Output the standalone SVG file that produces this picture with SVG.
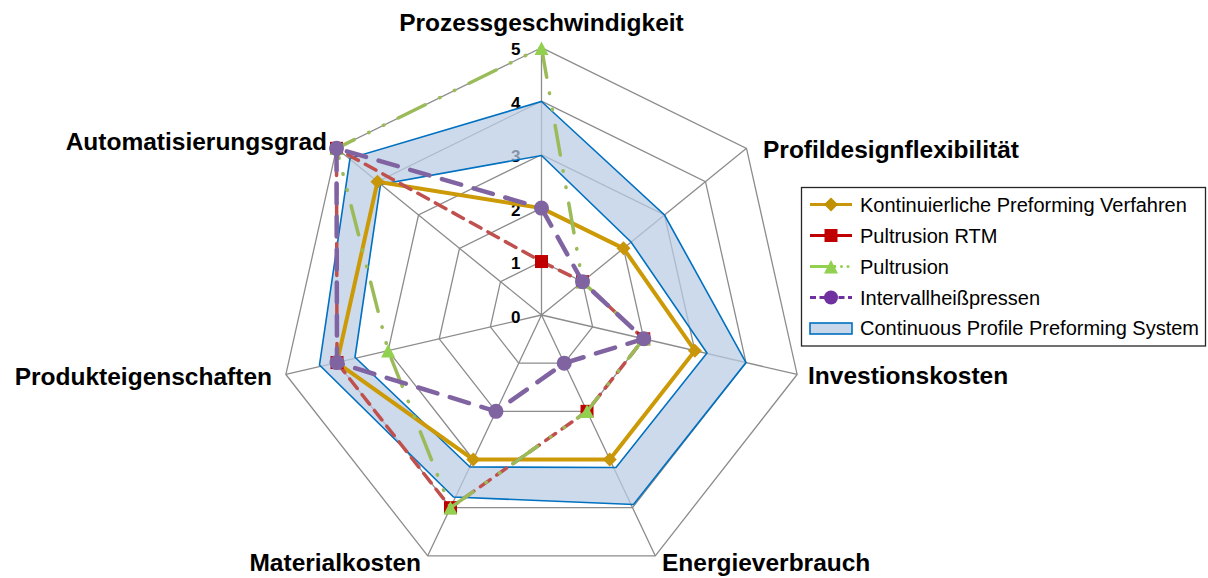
<svg xmlns="http://www.w3.org/2000/svg" xmlns:xlink="http://www.w3.org/1999/xlink" width="1208" height="578" viewBox="0 0 1208 578">
  <style>
    .grid { fill: none; stroke: #8c8c8c; stroke-width: 1.3; }
    .axis-label { font-family: "Liberation Sans", Arial, sans-serif; font-weight: bold; font-size: 24.5px; fill: #000; }
    .tick { font-family: "Liberation Sans", Arial, sans-serif; font-weight: bold; font-size: 17px; fill: #000; text-anchor: end; }
    .legend-text { font-family: "Liberation Sans", Arial, sans-serif; font-size: 20px; fill: #000; }
    .band { fill: #b9cce4; fill-opacity: 0.72; fill-rule: evenodd; stroke: #0070c0; stroke-width: 1.6; stroke-linejoin: miter; }
    .s-gold { fill: none; stroke: #cc9a06; stroke-width: 4; stroke-linejoin: miter; }
    .s-red { fill: none; stroke: #c0504d; stroke-width: 3.5; stroke-dasharray: 12 8; stroke-linecap: round; }
    .s-green { fill: none; stroke: #9bbb59; stroke-width: 3.5; stroke-dasharray: 30 16 0.5 16 0.5 16; stroke-linecap: round; }
    .s-purple { fill: none; stroke: #8064a2; stroke-width: 4.5; stroke-dasharray: 20 13; stroke-linecap: round; }
    .m-gold { fill: #c8960a; }
    .m-red { fill: #c00000; }
    .m-green { fill: #92d050; }
    .m-purple { fill: #8064a2; }
  </style>
  <defs>
    <path id="mk-diamond" d="M0,-7 L7,0 L0,7 L-7,0 Z"/>
    <rect id="mk-square" x="-6.5" y="-6.5" width="13" height="13"/>
    <path id="mk-tri" d="M0,-7.5 L7,6 L-7,6 Z"/>
    <circle id="mk-circle" r="7.5"/>
  </defs>

  <rect width="1208" height="578" fill="#ffffff"/>

  <!-- radar grid: rings at 1..5 and seven spokes -->
  <g id="grid">
    <polygon class="grid" points="541.5,261.54 582.5,281.67 592.63,326.9 564.25,363.17 518.75,363.17 490.38,326.9 500.5,281.67"/>
    <polygon class="grid" points="541.5,208.08 623.5,248.34 643.75,338.79 587.01,411.33 495.99,411.33 439.25,338.79 459.5,248.34"/>
    <polygon class="grid" points="541.5,154.62 664.5,215 694.88,350.69 609.76,459.5 473.24,459.5 388.13,350.69 418.5,215"/>
    <polygon class="grid" points="541.5,101.16 705.5,181.67 746,362.58 632.51,507.66 450.49,507.66 337,362.58 377.5,181.67"/>
    <polygon class="grid" points="541.5,47.7 746.5,148.34 797.13,374.48 655.27,555.83 427.74,555.83 285.88,374.48 336.5,148.34"/>
    <path class="grid" d="M541.5,315 L541.5,47.7 M541.5,315 L746.5,148.34 M541.5,315 L797.13,374.48 M541.5,315 L655.27,555.83 M541.5,315 L427.74,555.83 M541.5,315 L285.88,374.48 M541.5,315 L336.5,148.34"/>
  </g>

  <!-- scale values -->
  <g id="ticks">
    <text class="tick" x="520.5" y="322.5">0</text>
    <text class="tick" x="520.5" y="269">1</text>
    <text class="tick" x="520.5" y="215.5">2</text>
    <text class="tick" x="520.5" y="162">3</text>
    <text class="tick" x="520.5" y="108.7">4</text>
    <text class="tick" x="520.5" y="55.2">5</text>
  </g>

  <!-- category labels -->
  <g id="labels">
    <text class="axis-label" x="541.5" y="31" text-anchor="middle">Prozessgeschwindigkeit</text>
    <text class="axis-label" x="763" y="158">Profildesignflexibilität</text>
    <text class="axis-label" x="808" y="384">Investionskosten</text>
    <text class="axis-label" x="662" y="571">Energieverbrauch</text>
    <text class="axis-label" x="421" y="571" text-anchor="end">Materialkosten</text>
    <text class="axis-label" x="272" y="385" text-anchor="end">Produkteigenschaften</text>
    <text class="axis-label" x="327" y="150" text-anchor="end">Automatisierungsgrad</text>
  </g>

  <!-- connectors: data series -->
  <g id="connectors">
    <g id="series-cpps">
      <path class="band" d="M541.5,101.5 L664.5,215 L746,362.6 L633.5,504.5 L453.5,497 L319.5,365 L350,158.3 Z M541.5,155.5 L631,242 L707,353 L616,467.5 L470,467 L355,357.3 L380.5,184.5 Z"/>
    </g>
    <g id="series-kontinuierlich">
      <polygon class="s-gold" points="541.5,208.08 623.5,248.34 694.88,350.69 609.76,459.5 473.24,459.5 337,362.58 377.5,181.67"/>
      <g class="m-gold">
        <use xlink:href="#mk-diamond" x="541.5" y="208.08"/>
        <use xlink:href="#mk-diamond" x="623.5" y="248.34"/>
        <use xlink:href="#mk-diamond" x="694.88" y="350.69"/>
        <use xlink:href="#mk-diamond" x="609.76" y="459.5"/>
        <use xlink:href="#mk-diamond" x="473.24" y="459.5"/>
        <use xlink:href="#mk-diamond" x="337" y="362.58"/>
        <use xlink:href="#mk-diamond" x="377.5" y="181.67"/>
      </g>
    </g>
    <g id="series-pultrusion-rtm">
      <polygon class="s-red" points="541.5,261.54 582.5,281.67 643.75,338.79 587.01,411.33 450.49,507.66 337,362.58 336.5,148.34"/>
      <g class="m-red">
        <use xlink:href="#mk-square" x="541.5" y="261.54"/>
        <use xlink:href="#mk-square" x="582.5" y="281.67"/>
        <use xlink:href="#mk-square" x="643.75" y="338.79"/>
        <use xlink:href="#mk-square" x="587.01" y="411.33"/>
        <use xlink:href="#mk-square" x="450.49" y="507.66"/>
        <use xlink:href="#mk-square" x="337" y="362.58"/>
        <use xlink:href="#mk-square" x="336.5" y="148.34"/>
      </g>
    </g>
    <g id="series-pultrusion">
      <polygon class="s-green" points="541.5,47.7 582.5,281.67 643.75,338.79 587.01,411.33 450.49,507.66 388.13,350.69 336.5,148.34"/>
      <g class="m-green">
        <use xlink:href="#mk-tri" x="541.5" y="49"/>
        <use xlink:href="#mk-tri" x="582.5" y="282.5"/>
        <use xlink:href="#mk-tri" x="643.75" y="339.5"/>
        <use xlink:href="#mk-tri" x="587.01" y="412"/>
        <use xlink:href="#mk-tri" x="450.49" y="508.5"/>
        <use xlink:href="#mk-tri" x="388.13" y="351.5"/>
        <use xlink:href="#mk-tri" x="336.5" y="149"/>
      </g>
    </g>
    <g id="series-intervallheisspressen">
      <polygon class="s-purple" points="541.5,208.08 582.5,281.67 643.75,338.79 564.25,363.17 495.99,411.33 337,362.58 336.5,148.34"/>
      <g class="m-purple">
        <use xlink:href="#mk-circle" x="541.5" y="208.08"/>
        <use xlink:href="#mk-circle" x="582.5" y="281.67"/>
        <use xlink:href="#mk-circle" x="643.75" y="338.79"/>
        <use xlink:href="#mk-circle" x="564.25" y="363.17"/>
        <use xlink:href="#mk-circle" x="495.99" y="411.33"/>
        <use xlink:href="#mk-circle" x="337" y="362.58"/>
        <use xlink:href="#mk-circle" x="336.5" y="148.34"/>
      </g>
    </g>
  </g>

  <!-- legend -->
  <g id="legend">
    <rect x="801.5" y="187.5" width="404" height="158.5" fill="#ffffff" stroke="#262626" stroke-width="1.3"/>
    <g id="legend-kontinuierlich">
      <line x1="810" y1="204.5" x2="852" y2="204.5" stroke="#c8960a" stroke-width="3"/>
      <use xlink:href="#mk-diamond" x="831" y="204.5" fill="#bf9000"/>
      <text class="legend-text" x="860" y="211.5">Kontinuierliche Preforming Verfahren</text>
    </g>
    <g id="legend-pultrusion-rtm">
      <line x1="810" y1="235.5" x2="852" y2="235.5" stroke="#c00000" stroke-width="3"/>
      <use xlink:href="#mk-square" x="831" y="235.5" fill="#c00000"/>
      <text class="legend-text" x="860" y="242.5">Pultrusion RTM</text>
    </g>
    <g id="legend-pultrusion">
      <line x1="810" y1="266.5" x2="836" y2="266.5" stroke="#92d050" stroke-width="3"/>
      <circle cx="841.5" cy="266.5" r="1.5" fill="#92d050"/>
      <circle cx="848" cy="266.5" r="1.5" fill="#92d050"/>
      <use xlink:href="#mk-tri" x="831" y="267.5" fill="#92d050"/>
      <text class="legend-text" x="860" y="273.5">Pultrusion</text>
    </g>
    <g id="legend-intervallheisspressen">
      <line x1="810" y1="297.5" x2="852" y2="297.5" stroke="#7030a0" stroke-width="3" stroke-dasharray="6 3.5"/>
      <circle cx="831" cy="297.5" r="7" fill="#7030a0"/>
      <text class="legend-text" x="860" y="304.5">Intervallheißpressen</text>
    </g>
    <g id="legend-cpps">
      <rect x="810" y="323" width="42" height="11" fill="#c9d7ea" stroke="#0070c0" stroke-width="1.6"/>
      <text class="legend-text" x="860" y="335">Continuous Profile Preforming System</text>
    </g>
  </g>
</svg>
